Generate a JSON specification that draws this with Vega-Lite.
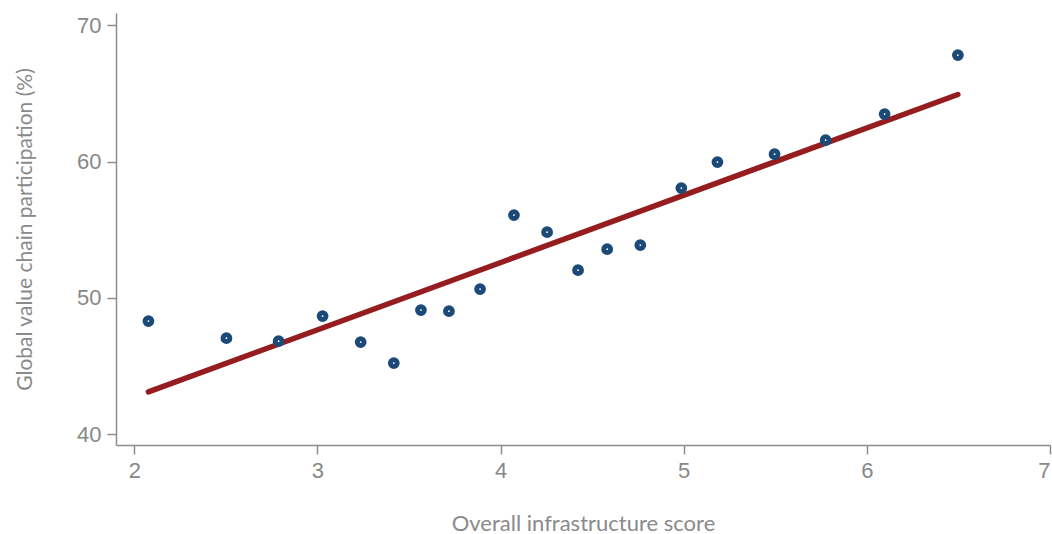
{
  "$schema": "https://vega.github.io/schema/vega-lite/v6.json",
  "autosize": {"type": "none"},
  "padding": {"left": 116, "top": 13, "right": 2, "bottom": 89},
  "width": 934,
  "height": 432,
  "background": "white",
  "config": {"view": {"stroke": null}},
  "data": {
    "values": [
      {"score": 2.077, "gvc": 48.29},
      {"score": 2.503, "gvc": 47.04},
      {"score": 2.788, "gvc": 46.82},
      {"score": 3.028, "gvc": 48.66},
      {"score": 3.236, "gvc": 46.75},
      {"score": 3.417, "gvc": 45.21},
      {"score": 3.565, "gvc": 49.10},
      {"score": 3.718, "gvc": 49.02},
      {"score": 3.888, "gvc": 50.64},
      {"score": 4.073, "gvc": 56.07},
      {"score": 4.254, "gvc": 54.82},
      {"score": 4.423, "gvc": 52.03},
      {"score": 4.582, "gvc": 53.57},
      {"score": 4.763, "gvc": 53.87},
      {"score": 4.987, "gvc": 58.05},
      {"score": 5.184, "gvc": 59.96},
      {"score": 5.496, "gvc": 60.54},
      {"score": 5.775, "gvc": 61.57},
      {"score": 6.097, "gvc": 63.48},
      {"score": 6.497, "gvc": 67.81}
    ]
  },
  "encoding": {
    "x": {
      "field": "score", "type": "quantitative",
      "scale": {"domain": [1.9, 7.0], "nice": false, "zero": false},
      "axis": {
        "title": "Overall infrastructure score",
        "values": [2, 3, 4, 5, 6, 7],
        "grid": false,
        "domainColor": "#8c8c8c", "domainWidth": 1.5,
        "tickColor": "#8c8c8c", "tickWidth": 1.5, "tickSize": 9,
        "labelFont": "Liberation Sans", "labelFontSize": 22, "labelColor": "#888888", "labelPadding": 6,
        "titleFont": "Lato", "titleFontSize": 22, "titleFontWeight": "normal", "titleColor": "#8a8a8a", "titlePadding": 32
      }
    },
    "y": {
      "field": "gvc", "type": "quantitative",
      "scale": {"domain": [39.2, 70.9], "nice": false, "zero": false},
      "axis": {
        "title": "Global value chain participation (%)",
        "values": [40, 50, 60, 70],
        "grid": false,
        "domainColor": "#8c8c8c", "domainWidth": 1.5,
        "tickColor": "#8c8c8c", "tickWidth": 1.5, "tickSize": 9,
        "labelFont": "Liberation Sans", "labelFontSize": 22, "labelColor": "#888888", "labelPadding": 6,
        "titleFont": "Lato", "titleFontSize": 21, "titleFontWeight": "normal", "titleColor": "#8a8a8a", "titlePadding": 41
      }
    }
  },
  "layer": [
    {
      "transform": [{"regression": "gvc", "on": "score"}],
      "mark": {"type": "line", "color": "#951c1f", "strokeWidth": 5.5, "strokeCap": "round"}
    },
    {
      "mark": {"type": "point", "shape": "circle", "size": 46, "filled": false, "fill": "white", "fillOpacity": 1, "stroke": "#1c4a78", "strokeWidth": 5, "opacity": 1}
    }
  ]
}
